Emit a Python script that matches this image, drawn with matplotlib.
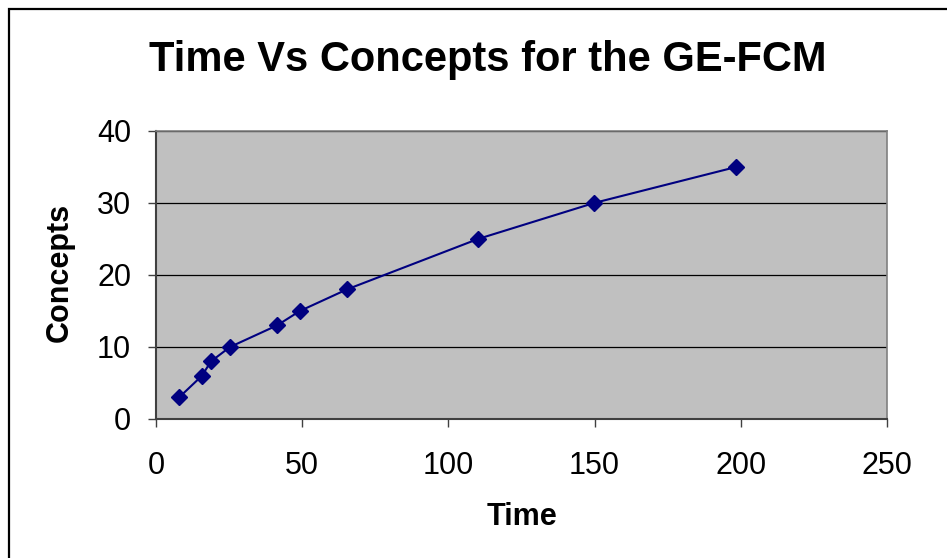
import matplotlib.pyplot as plt
from matplotlib.patches import Rectangle

# data
time = [7.9, 15.7, 18.8, 25.3, 41.4, 49.2, 65.3, 110.1, 149.8, 198.4]
concepts = [3, 6, 8, 10, 13, 15, 18, 25, 30, 35]
x_ticks = [0, 50, 100, 150, 200, 250]
y_ticks = [0, 10, 20, 30, 40]

plt.rcParams['font.family'] = ['Liberation Sans', 'DejaVu Sans']

W, H = 947, 558
fig = plt.figure(figsize=(W / 100, H / 100), dpi=100)

# outer chart frame (only top and left visible in the original)
fig.patches.append(Rectangle((9 / W, -0.1), 1.2, (H - 9) / H + 0.1,
                             transform=fig.transFigure, fill=False,
                             edgecolor='black', linewidth=1.6))

ax = fig.add_axes([156 / W, (H - 419) / H, 731 / W, 288 / H])
ax.set_facecolor('#c0c0c0')

ax.plot(time, concepts, color='#000080', linewidth=1.5, marker='D',
        markersize=8.5, markerfacecolor='#000080', markeredgecolor='#000080',
        zorder=3)

ax.set_xlim(0, 250)
ax.set_ylim(0, 40)
ax.set_xticks(x_ticks)
ax.set_yticks(y_ticks)
ax.yaxis.grid(True, color='black', linewidth=0.9)
ax.set_axisbelow(True)

for side in ['top', 'right']:
    ax.spines[side].set_color('#808080')
    ax.spines[side].set_linewidth(1.2)
for side in ['left', 'bottom']:
    ax.spines[side].set_color('#404040')
    ax.spines[side].set_linewidth(1.5)

ax.tick_params(axis='both', direction='out', length=6, width=1,
               color='#404040', labelsize=22)
ax.tick_params(axis='y', pad=12)
ax.tick_params(axis='x', pad=17)

fig.text(488 / W, 1 - 60 / H, 'Time Vs Concepts for the GE-FCM',
         ha='center', va='center', fontsize=30, fontweight='bold')
fig.text(522 / W, 1 - 517 / H, 'Time', ha='center', va='center',
         fontsize=22, fontweight='bold')
fig.text(60 / W, 1 - 272 / H, 'Concepts', ha='center', va='center',
         fontsize=22, fontweight='bold', rotation=90)

fig.savefig('out.png', dpi=100)
